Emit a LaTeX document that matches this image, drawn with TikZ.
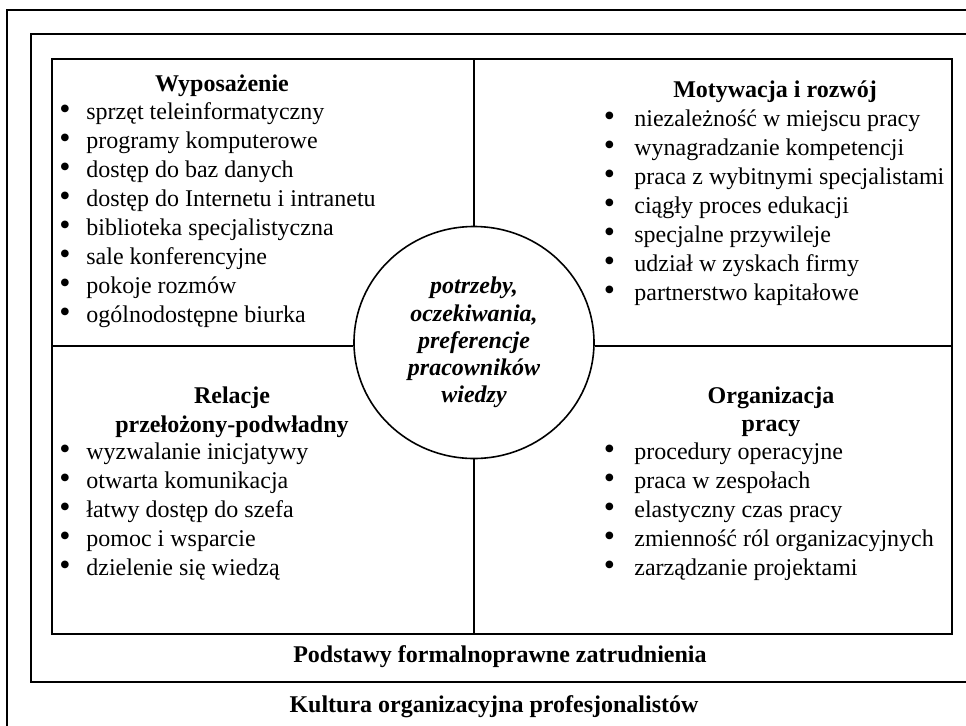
\documentclass[tikz,border=0pt]{standalone}
\usepackage{fontspec}
\setmainfont{Liberation Serif}
\usetikzlibrary{shapes.geometric}

\begin{document}
\begin{tikzpicture}[
  x=0.5pt, y=-0.5pt,
  font=\fontsize{12}{14.5}\selectfont,
  frame/.style={line width=1pt},
  divider/.style={line width=0.8pt},
  head/.style={anchor=base, inner sep=0pt, font=\fontsize{12}{14.5}\selectfont\bfseries},
  entry/.style={anchor=base west, inner sep=0pt},
  dot/.style={anchor=base, inner sep=0pt, font=\fontsize{16}{16}\selectfont},
  needs/.style={ellipse, draw, line width=0.8pt, inner sep=0pt, minimum width=120pt, minimum height=116pt,
    align=center, font=\fontsize{12}{13.6}\selectfont\bfseries\itshape}
]
\useasboundingbox (0,0) rectangle (966,725);
\clip (0,0) rectangle (966,725);

% ramki
\draw[frame] (7,10) rectangle (990,750);
\draw[frame] (31,34) rectangle (990,682);
\draw[frame] (52,59) rectangle (952,634);

\node[needs] (needs) at (474,342.5) {potrzeby,\\oczekiwania,\\preferencje\\pracowników\\wiedzy};

\coordinate (top) at (474,59);
\coordinate (bottom) at (474,634);
\coordinate (left) at (52,346);
\coordinate (right) at (952,346);
\draw[divider] (top) -- (needs.north);
\draw[divider] (needs.south) -- (bottom);
\draw[divider] (left) -- (left -| needs.west);
\draw[divider] (right -| needs.east) -- (right);

% wyposazenie
\node[head] (wyp) at (222,91) {Wyposażenie};
\foreach \y/\label [count=\n] in {
  119/{sprzęt teleinformatyczny},
  148/{programy komputerowe},
  177/{dostęp do baz danych},
  206/{dostęp do Internetu i intranetu},
  235/{biblioteka specjalistyczna},
  264/{sale konferencyjne},
  293/{pokoje rozmów},
  322/{ogólnodostępne biurka}
} {
  \node[dot] (wypb\n) at (65,\y) {\textbullet};
  \node[entry] (wyp\n) at (86,\y) {\label};
}

% motywacja
\node[head] (mot) at (775,97) {Motywacja i rozwój};
\foreach \y/\label [count=\n] in {
  126/{niezależność w miejscu pracy},
  155/{wynagradzanie kompetencji},
  184/{praca z wybitnymi specjalistami},
  213/{ciągły proces edukacji},
  242/{specjalne przywileje},
  271/{udział w zyskach firmy},
  300/{partnerstwo kapitałowe}
} {
  \node[dot] (motb\n) at (609.5,\y) {\textbullet};
  \node[entry] (mot\n) at (634,\y) {\label};
}

% relacje
\node[head] (rel) at (232,403) {Relacje};
\node[head] (relb) at (232,432) {przełożony-podwładny};
\foreach \y/\label [count=\n] in {
  459/{wyzwalanie inicjatywy},
  488/{otwarta komunikacja},
  517/{łatwy dostęp do szefa},
  546/{pomoc i wsparcie},
  575/{dzielenie się wiedzą}
} {
  \node[dot] (relb\n) at (65,\y) {\textbullet};
  \node[entry] (rel\n) at (86,\y) {\label};
}

% organizacja
\node[head] (org) at (771,403) {Organizacja};
\node[head] (orgb) at (771,431) {pracy};
\foreach \y/\label [count=\n] in {
  459/{procedury operacyjne},
  488/{praca w zespołach},
  517/{elastyczny czas pracy},
  546/{zmienność ról organizacyjnych},
  575/{zarządzanie projektami}
} {
  \node[dot] (orgb\n) at (609.5,\y) {\textbullet};
  \node[entry] (org\n) at (634,\y) {\label};
}

\node[head] (podst) at (500,662) {Podstawy formalnoprawne zatrudnienia};
\node[head] (kult) at (494,712) {Kultura organizacyjna profesjonalistów};

\end{tikzpicture}
\end{document}
